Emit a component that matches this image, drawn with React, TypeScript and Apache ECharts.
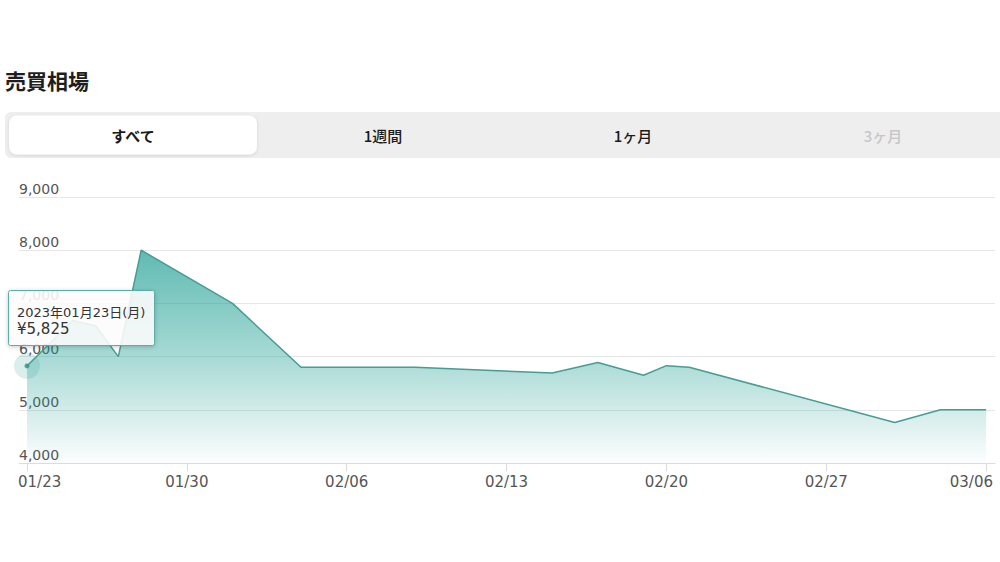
import React, { useEffect, useRef } from "react";
import * as echarts from "echarts";

const titleText = "売買相場";
const tabs = ["すべて", "1週間", "1ヶ月", "3ヶ月"];
const activeTab = 0;
const disabledTab = 3;

const dates = [
  "2023-01-23", "2023-01-25", "2023-01-26", "2023-01-27", "2023-01-28",
  "2023-02-01", "2023-02-04", "2023-02-09", "2023-02-15", "2023-02-17",
  "2023-02-19", "2023-02-20", "2023-02-21", "2023-03-02", "2023-03-04",
  "2023-03-06",
];
const prices = [
  5825, 6680, 6580, 6000, 8000,
  7000, 5800, 5800, 5690, 5890,
  5650, 5830, 5800, 4760, 5000,
  5000,
];
const tickLabels = ["01/23", "01/30", "02/06", "02/13", "02/20", "02/27", "03/06"];
const tickYear = 2023;
const weekdays = ["日", "月", "火", "水", "木", "金", "土"];
const yMin = 4000;
const yMax = 9000;
const yStep = 1000;
const tooltipIndex = 0;

const toUTC = (s: string) => {
  const [y, m, d] = s.split("-").map(Number);
  return Date.UTC(y, m - 1, d);
};
const DAY = 86400000;
const start = toUTC(dates[0]);
const dayOffset = (s: string) => Math.round((toUTC(s) - start) / DAY);
const tickDays = tickLabels.map((l) => dayOffset(`${tickYear}-${l.replace("/", "-")}`));

const FONT = "'DejaVu Sans', 'Noto Sans CJK JP', sans-serif";
const CJK = "'Noto Sans CJK JP', 'DejaVu Sans', sans-serif";

const GRID_LEFT = 19;
const GRID_RIGHT = 5;
const GRID_TOP = 197;
const GRID_BOTTOM = 99;
const W = 1000;
const H = 562;

export default function App() {
  const ref = useRef<HTMLDivElement>(null);
  useEffect(() => {
    if (!ref.current) return;
    const chart = echarts.init(ref.current, undefined, { renderer: "svg" });
    const lineData = dates.map((d, i) => [dayOffset(d), prices[i]]);
    const tipPoint = [lineData[tooltipIndex]];

    const tabW = 250;
    const tabX0 = 9;
    const graphics: any[] = [
      {
        type: "rect",
        shape: { x: 5, y: 112, width: 1010, height: 46, r: 6 },
        style: { fill: "#eeeeee" },
        silent: true,
      },
      {
        type: "rect",
        shape: { x: 9, y: 115.5, width: 248, height: 39, r: 8 },
        style: {
          fill: "#ffffff",
          shadowBlur: 3,
          shadowColor: "rgba(0,0,0,0.12)",
          shadowOffsetY: 1,
        },
        silent: true,
      },
    ];
    tabs.forEach((t, i) => {
      graphics.push({
        type: "text",
        x: tabX0 + tabW * i + 124,
        y: 135,
        style: {
          text: t,
          fontSize: 15,
          fontFamily: CJK,
          fontWeight: i === activeTab ? "bold" : 500,
          fill: i === disabledTab ? "#c6c6c6" : "#1a1a1a",
          align: "center",
          verticalAlign: "middle",
        },
        silent: true,
      });
    });

    // edge tick labels are clamped inside the plot area (as in the reference)
    const labelY = H - GRID_BOTTOM + 19;
    graphics.push({
      type: "text",
      x: GRID_LEFT - 1,
      y: labelY,
      silent: true,
      style: {
        text: tickLabels[0],
        fontSize: 15,
        fontFamily: FONT,
        fill: "#555",
        align: "left",
        verticalAlign: "middle",
      },
    });
    graphics.push({
      type: "text",
      x: W - GRID_RIGHT - 2,
      y: labelY,
      silent: true,
      style: {
        text: tickLabels[tickLabels.length - 1],
        fontSize: 15,
        fontFamily: FONT,
        fill: "#555",
        align: "right",
        verticalAlign: "middle",
      },
    });

    const [ty, tm, td] = dates[tooltipIndex].split("-");
    const twd = weekdays[new Date(toUTC(dates[tooltipIndex])).getUTCDay()];
    graphics.push(
      {
        type: "rect",
        z: 100,
        silent: true,
        shape: { x: 8.5, y: 290.5, width: 146, height: 55, r: 2 },
        style: {
          fill: "rgba(255,255,255,0.86)",
          stroke: "#5aaea6",
          lineWidth: 1,
          shadowBlur: 4,
          shadowColor: "rgba(0,0,0,0.22)",
          shadowOffsetY: 1,
        },
      },
      {
        type: "text",
        z: 101,
        silent: true,
        x: 17,
        y: 312,
        style: {
          text: `${ty}年${tm}月${td}日(${twd})`,
          fontSize: 13,
          fontFamily: FONT,
          fill: "#333",
          verticalAlign: "middle",
        },
      },
      {
        type: "text",
        z: 101,
        silent: true,
        x: 17,
        y: 329,
        style: {
          text: `¥${prices[tooltipIndex].toLocaleString("en-US")}`,
          fontSize: 15,
          fontFamily: FONT,
          fill: "#333",
          verticalAlign: "middle",
        },
      }
    );

    const innerTicks = tickDays.slice(1, -1);

    chart.setOption({
      animation: false,
      title: {
        text: titleText,
        left: 5,
        top: 69,
        padding: 0,
        textStyle: { fontSize: 21, fontWeight: "bold", color: "#1e1e1e", fontFamily: CJK },
      },
      graphic: graphics,
      grid: {
        left: GRID_LEFT,
        right: GRID_RIGHT,
        top: GRID_TOP,
        bottom: GRID_BOTTOM,
        containLabel: false,
        outerBoundsMode: "none",
      },
      xAxis: {
        type: "value",
        min: -0.35,
        max: 42.39,
        splitLine: { show: false },
        axisLine: { show: true, lineStyle: { color: "#dcdcdc", width: 1 } },
        axisTick: {
          show: true,
          customValues: tickDays,
          length: 8,
          lineStyle: { color: "#dcdcdc" },
        },
        axisLabel: {
          customValues: innerTicks,
          margin: 11,
          fontSize: 15,
          fontFamily: FONT,
          color: "#555",
          hideOverlap: false,
          formatter: (v: number) => {
            const k = tickDays.indexOf(Math.round(v));
            return k >= 0 ? tickLabels[k] : "";
          },
        },
      },
      yAxis: {
        type: "value",
        min: yMin,
        max: yMax,
        interval: yStep,
        axisLine: { show: false },
        axisTick: { show: false },
        splitLine: { lineStyle: { color: "#e6e6e6", width: 1 } },
        axisLabel: {
          inside: true,
          margin: 0,
          verticalAlign: "bottom",
          padding: [0, 0, 1, 0],
          fontSize: 14,
          fontFamily: FONT,
          color: "#555",
          formatter: (v: number) => v.toLocaleString("en-US"),
        },
      },
      series: [
        {
          type: "line",
          data: lineData,
          showSymbol: false,
          symbol: "none",
          silent: true,
          lineStyle: { color: "#479c94", width: 1.5 },
          areaStyle: {
            color: new echarts.graphic.LinearGradient(0, 0, 0, 1, [
              { offset: 0, color: "rgba(28,158,146,1)" },
              { offset: 0.5, color: "rgba(28,158,146,0.55)" },
              { offset: 1, color: "rgba(28,158,146,0.02)" },
            ]),
          },
          z: 2,
        },
        {
          type: "scatter",
          data: tipPoint,
          symbolSize: 26,
          silent: true,
          itemStyle: { color: "rgba(70,170,160,0.25)" },
          z: 3,
        },
        {
          type: "scatter",
          data: tipPoint,
          symbolSize: 5,
          silent: true,
          itemStyle: { color: "#2f8f87" },
          z: 4,
        },
      ],
    });
    return () => chart.dispose();
  }, []);
  return (
    <div
      ref={ref}
      style={{ position: "fixed", left: 0, top: 0, width: W, height: H, background: "#fff" }}
    />
  );
}
